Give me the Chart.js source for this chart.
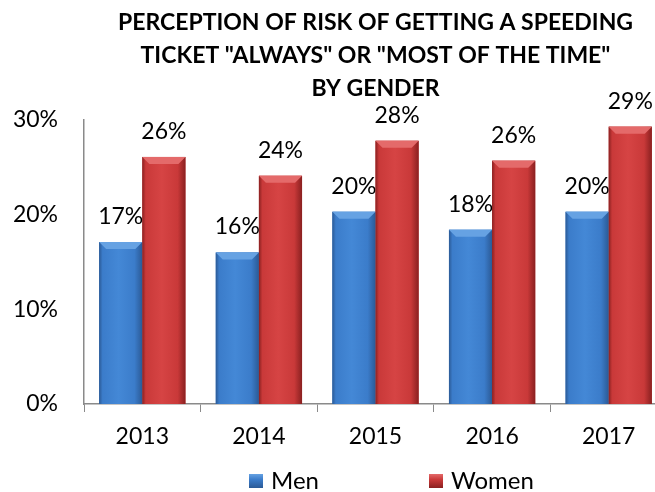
<!DOCTYPE html>
<html>
<head>
<meta charset="utf-8">
<script src="https://cdn.jsdelivr.net/npm/chart.js@4.4.1/dist/chart.umd.min.js"></script>
<style>
  html, body { margin: 0; padding: 0; background: #fff; overflow: hidden; }
  #wrap { width: 667px; height: 492px; }
</style>
</head>
<body>
<div id="wrap"><canvas id="chart" width="667" height="492"></canvas></div>
<script>
const years = ["2013", "2014", "2015", "2016", "2017"];
const men = [17.1, 16.0, 20.3, 18.4, 20.3];
const women = [26.1, 24.1, 27.8, 25.7, 29.3];
const titleLines = [
  'PERCEPTION OF RISK OF GETTING A SPEEDING',
  'TICKET "ALWAYS" OR "MOST OF THE TIME"',
  'BY GENDER'
];

// colours for the shaded (cylinder-like) bars
const palettes = [
  { edge: '#2b5a96', mid: '#3b7cca', light: '#4488d6', top: '#66a2e3', base: '#3b7cca' },
  { edge: '#8a2020', mid: '#c93939', light: '#d64444', top: '#e46a6a', base: '#c93939' }
];

const font = 'Lato';

// paint each bar with a horizontal gradient and a light bevel on top
const shadedBars = {
  id: 'shadedBars',
  afterDatasetsDraw(chart) {
    const ctx = chart.ctx;
    ctx.save();
    chart.data.datasets.forEach((ds, i) => {
      const pal = palettes[i];
      chart.getDatasetMeta(i).data.forEach((bar, j) => {
        const { x, y, base, width } = bar.getProps(['x', 'y', 'base', 'width'], true);
        const l = x - width / 2, r = x + width / 2;
        const g = ctx.createLinearGradient(l, 0, r, 0);
        g.addColorStop(0, pal.edge);
        g.addColorStop(0.08, pal.mid);
        g.addColorStop(0.45, pal.light);
        g.addColorStop(0.82, pal.mid);
        g.addColorStop(1, pal.edge);
        ctx.fillStyle = g;
        ctx.fillRect(l, y, width, base - y);

        const b = 7;
        ctx.beginPath();
        ctx.moveTo(l, y);
        ctx.lineTo(r, y);
        ctx.lineTo(r - b, y + b);
        ctx.lineTo(l + b, y + b);
        ctx.closePath();
        ctx.fillStyle = pal.top;
        ctx.fill();

        // value label
        ctx.fillStyle = '#000';
        ctx.font = '23px ' + font;
        ctx.textAlign = 'center';
        ctx.textBaseline = 'bottom';
        ctx.fillText(Math.round(ds.data[j]) + '%', x, y - 14);
      });
    });
    ctx.restore();
  }
};

// legend drawn under the axis, spaced like the original
const bottomLegend = {
  id: 'bottomLegend',
  afterDraw(chart) {
    const ctx = chart.ctx;
    ctx.save();
    ctx.font = '24px ' + font;
    ctx.textBaseline = 'middle';
    ctx.textAlign = 'left';
    chart.data.datasets.forEach((ds, i) => {
      const pal = palettes[i];
      const bx = 249 + i * 180, by = 474, s = 14;
      const g = ctx.createLinearGradient(0, by, 0, by + s);
      g.addColorStop(0, pal.top);
      g.addColorStop(0.4, pal.mid);
      g.addColorStop(1, pal.edge);
      ctx.fillStyle = g;
      ctx.fillRect(bx, by, s, s);
      ctx.fillStyle = '#000';
      ctx.fillText(ds.label, bx + 22, 481);
    });
    ctx.restore();
  }
};

new Chart(document.getElementById('chart'), {
  type: 'bar',
  data: {
    labels: years,
    datasets: [
      { label: 'Men', data: men, backgroundColor: palettes[0].base },
      { label: 'Women', data: women, backgroundColor: palettes[1].base }
    ]
  },
  options: {
    responsive: false,
    animation: false,
    layout: { padding: { left: 0, right: 0, top: 0, bottom: 38 } },
    datasets: {
      bar: { categoryPercentage: 0.74, barPercentage: 1 }
    },
    plugins: {
      legend: { display: false },
      tooltip: { enabled: false },
      title: {
        display: true,
        fullSize: false,
        text: titleLines,
        color: '#000',
        font: { family: font, size: 23, weight: 'bold', lineHeight: 33 / 23 },
        padding: { top: 6, bottom: 15 }
      }
    },
    scales: {
      x: {
        afterFit(scale) { scale.height = 50; },
        grid: {
          drawOnChartArea: false,
          drawTicks: true,
          tickLength: 8,
          offset: true,
          color: '#8a8a8a'
        },
        border: { display: true, color: '#8a8a8a', width: 1.5 },
        ticks: {
          color: '#000',
          padding: 11,
          font: { family: font, size: 23 }
        }
      },
      y: {
        min: 0,
        max: 30,
        afterFit(scale) { scale.width = 84; },
        grid: { display: false, drawTicks: false },
        border: { display: true, color: '#8a8a8a', width: 1.5 },
        ticks: {
          stepSize: 10,
          color: '#000',
          padding: 26,
          font: { family: font, size: 23 },
          callback: v => v + '%'
        }
      }
    }
  },
  plugins: [shadedBars, bottomLegend]
});
</script>
</body>
</html>
